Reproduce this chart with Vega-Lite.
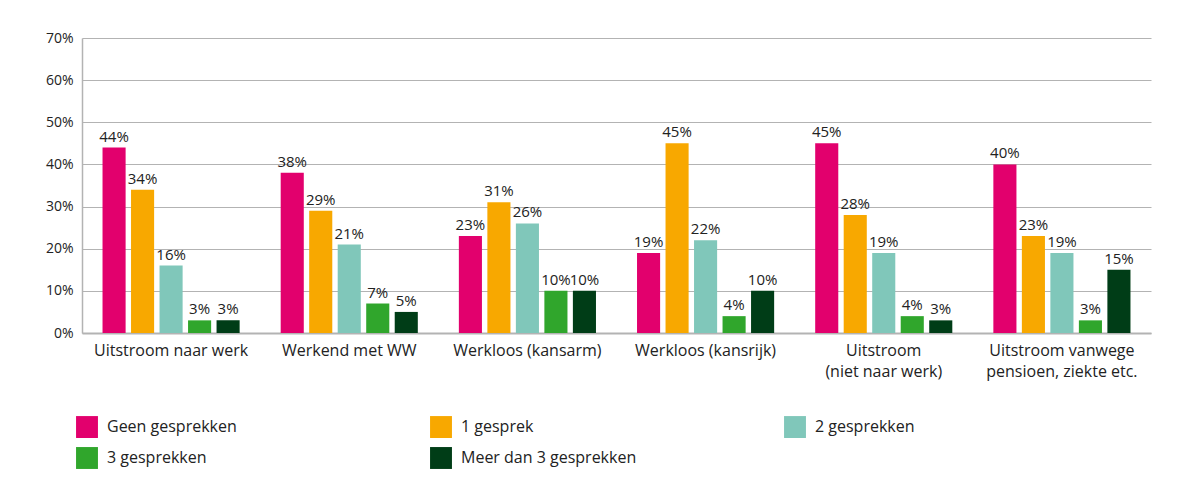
{
  "$schema": "https://vega.github.io/schema/vega-lite/v6.json",
  "autosize": {"type": "none"},
  "padding": {"left": 82, "top": 38, "right": 38, "bottom": 157},
  "width": 1069,
  "height": 295,
  "background": "white",
  "config": {
    "font": "Open Sans",
    "view": {"stroke": null},
    "axis": {"labelFont": "Open Sans", "labelColor": "#222222"},
    "legend": {"labelFont": "Open Sans"}
  },
  "data": {
    "values": [
      {"cat": "Uitstroom naar werk", "serie": "Geen gesprekken", "v": 0.44},
      {"cat": "Uitstroom naar werk", "serie": "1 gesprek", "v": 0.34},
      {"cat": "Uitstroom naar werk", "serie": "2 gesprekken", "v": 0.16},
      {"cat": "Uitstroom naar werk", "serie": "3 gesprekken", "v": 0.03},
      {"cat": "Uitstroom naar werk", "serie": "Meer dan 3 gesprekken", "v": 0.03},
      {"cat": "Werkend met WW", "serie": "Geen gesprekken", "v": 0.38},
      {"cat": "Werkend met WW", "serie": "1 gesprek", "v": 0.29},
      {"cat": "Werkend met WW", "serie": "2 gesprekken", "v": 0.21},
      {"cat": "Werkend met WW", "serie": "3 gesprekken", "v": 0.07},
      {"cat": "Werkend met WW", "serie": "Meer dan 3 gesprekken", "v": 0.05},
      {"cat": "Werkloos (kansarm)", "serie": "Geen gesprekken", "v": 0.23},
      {"cat": "Werkloos (kansarm)", "serie": "1 gesprek", "v": 0.31},
      {"cat": "Werkloos (kansarm)", "serie": "2 gesprekken", "v": 0.26},
      {"cat": "Werkloos (kansarm)", "serie": "3 gesprekken", "v": 0.10},
      {"cat": "Werkloos (kansarm)", "serie": "Meer dan 3 gesprekken", "v": 0.10},
      {"cat": "Werkloos (kansrijk)", "serie": "Geen gesprekken", "v": 0.19},
      {"cat": "Werkloos (kansrijk)", "serie": "1 gesprek", "v": 0.45},
      {"cat": "Werkloos (kansrijk)", "serie": "2 gesprekken", "v": 0.22},
      {"cat": "Werkloos (kansrijk)", "serie": "3 gesprekken", "v": 0.04},
      {"cat": "Werkloos (kansrijk)", "serie": "Meer dan 3 gesprekken", "v": 0.10},
      {"cat": "Uitstroom (niet naar werk)", "serie": "Geen gesprekken", "v": 0.45},
      {"cat": "Uitstroom (niet naar werk)", "serie": "1 gesprek", "v": 0.28},
      {"cat": "Uitstroom (niet naar werk)", "serie": "2 gesprekken", "v": 0.19},
      {"cat": "Uitstroom (niet naar werk)", "serie": "3 gesprekken", "v": 0.04},
      {"cat": "Uitstroom (niet naar werk)", "serie": "Meer dan 3 gesprekken", "v": 0.03},
      {"cat": "Uitstroom vanwege pensioen, ziekte etc.", "serie": "Geen gesprekken", "v": 0.40},
      {"cat": "Uitstroom vanwege pensioen, ziekte etc.", "serie": "1 gesprek", "v": 0.23},
      {"cat": "Uitstroom vanwege pensioen, ziekte etc.", "serie": "2 gesprekken", "v": 0.19},
      {"cat": "Uitstroom vanwege pensioen, ziekte etc.", "serie": "3 gesprekken", "v": 0.03},
      {"cat": "Uitstroom vanwege pensioen, ziekte etc.", "serie": "Meer dan 3 gesprekken", "v": 0.15}
    ]
  },
  "encoding": {
    "x": {
      "field": "cat",
      "type": "nominal",
      "sort": null,
      "scale": {"paddingInner": 0, "paddingOuter": 0},
      "axis": {
        "title": null,
        "labelAngle": 0,
        "ticks": false,
        "domain": true,
        "domainColor": "#b3b3b3",
        "domainWidth": 2,
        "labelFontSize": 16,
        "labelPadding": 9,
        "labelBaseline": "top",
        "labelLineHeight": 21,
        "labelLimit": 300,
        "labelExpr": "datum.label == 'Uitstroom (niet naar werk)' ? ['Uitstroom', '(niet naar werk)'] : datum.label == 'Uitstroom vanwege pensioen, ziekte etc.' ? ['Uitstroom vanwege', 'pensioen, ziekte etc.'] : datum.label"
      }
    },
    "xOffset": {
      "field": "serie",
      "type": "nominal",
      "sort": ["Geen gesprekken", "1 gesprek", "2 gesprekken", "3 gesprekken", "Meer dan 3 gesprekken"],
      "scale": {"paddingInner": 0.19, "paddingOuter": 0.72}
    },
    "y": {
      "field": "v",
      "type": "quantitative",
      "scale": {"domain": [0, 0.7], "nice": false},
      "axis": {
        "title": null,
        "format": ".0%",
        "values": [0, 0.1, 0.2, 0.3, 0.4, 0.5, 0.6, 0.7],
        "ticks": false,
        "domain": true,
        "domainColor": "#b3b3b3",
        "domainWidth": 1.5,
        "grid": true,
        "gridColor": "#b3b3b3",
        "gridWidth": 1.2,
        "labelFontSize": 14,
        "labelPadding": 9
      }
    }
  },
  "layer": [
    {
      "mark": {"type": "bar"},
      "encoding": {
        "color": {
          "field": "serie",
          "type": "nominal",
          "sort": ["Geen gesprekken", "1 gesprek", "2 gesprekken", "3 gesprekken", "Meer dan 3 gesprekken"],
          "scale": {
            "domain": ["Geen gesprekken", "1 gesprek", "2 gesprekken", "3 gesprekken", "Meer dan 3 gesprekken"],
            "range": ["#E2006D", "#F8A800", "#80C7BA", "#30A62C", "#003D17"]
          },
          "legend": {
            "title": null,
            "orient": "none",
            "legendX": -6,
            "legendY": 378,
            "direction": "horizontal",
            "columns": 3,
            "gridAlign": "all",
            "columnPadding": 147,
            "rowPadding": 9,
            "symbolType": "square",
            "symbolSize": 480,
            "symbolStrokeWidth": 0,
            "symbolOpacity": 1,
            "labelFontSize": 16,
            "labelColor": "#222222",
            "labelOffset": 9,
            "labelLimit": 300
          }
        }
      }
    },
    {
      "mark": {"type": "text", "baseline": "bottom", "dy": -3, "fontSize": 15, "color": "#222222"},
      "encoding": {
        "text": {"field": "v", "type": "quantitative", "format": ".0%"}
      }
    }
  ]
}
